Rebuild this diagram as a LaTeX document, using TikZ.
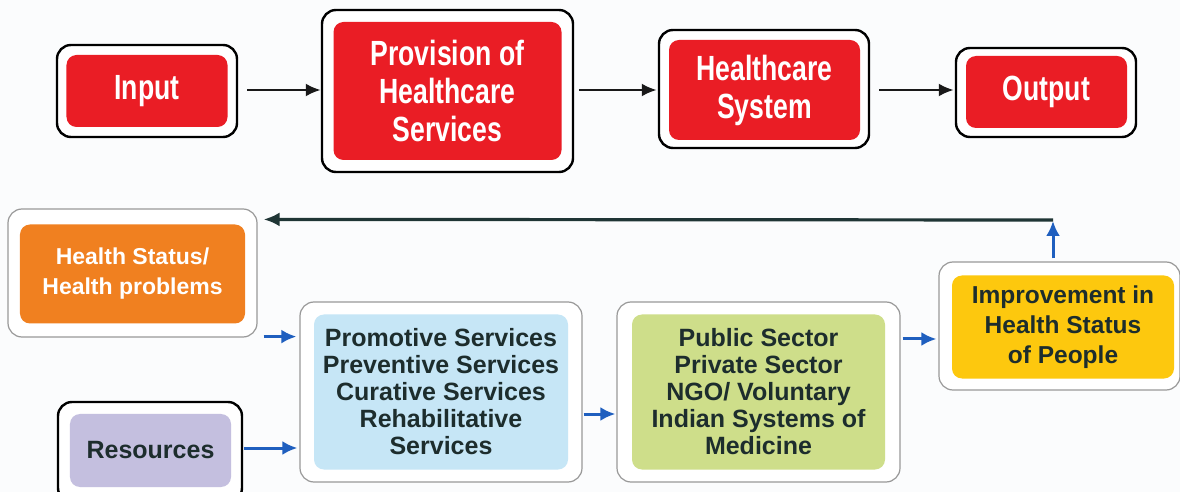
\documentclass[tikz,border=0pt]{standalone}
\usepackage{fontspec}
\setmainfont{Liberation Sans}
\newfontfamily\condfont[FakeStretch=0.76]{Liberation Sans}
\usetikzlibrary{arrows.meta,calc}
\definecolor{bgc}{HTML}{FBFCFD}
\definecolor{redc}{HTML}{EA1D25}
\definecolor{orangec}{HTML}{F08020}
\definecolor{bluec}{HTML}{C6E6F6}
\definecolor{greenc}{HTML}{CEDE8A}
\definecolor{yellowc}{HTML}{FDC80E}
\definecolor{lavc}{HTML}{C4BFDF}
\definecolor{arrowblue}{HTML}{1F5FBF}
\definecolor{txtc}{HTML}{1D2D2D}
\definecolor{fbline}{HTML}{1F3535}
\tikzset{
  outerbox/.style={draw=black, line width=2.4bp, rounded corners=14bp, fill=white, inner sep=0pt},
  outergray/.style={draw=black!40, line width=1.2bp, rounded corners=14bp, fill=white, inner sep=0pt},
  innerbox/.style={rounded corners=10bp, inner sep=0pt, align=center},
  redbox/.style={innerbox, fill=redc, text=white, font=\condfont\bfseries\fontsize{35bp}{38bp}\selectfont},
  lowtext/.style={text=txtc, font=\bfseries\fontsize{25bp}{27bp}\selectfont},
  toparrow/.style={draw=black!90, line width=2.6bp, -{Latex[length=15bp,width=13bp]}},
  bluearrow/.style={draw=arrowblue, line width=3bp, -{Latex[length=15bp,width=14bp]}},
}
\begin{document}
\begin{tikzpicture}[x=1bp,y=-1bp]
\useasboundingbox (0,0) rectangle (1180,492);
\fill[bgc] (0,0) rectangle (1180,492);

% top row
\node[outerbox, minimum width=180bp, minimum height=92bp] (inO) at (147,91) {};
\node[redbox, minimum width=161bp, minimum height=72bp] (in) at (inO.center) {Input};

\node[outerbox, minimum width=251bp, minimum height=162bp] (provO) at (447.5,91) {};
\node[redbox, minimum width=228bp, minimum height=138bp] (prov) at (provO.center) {Provision of\\Healthcare\\Services};

\node[outerbox, minimum width=210bp, minimum height=118bp] (hsO) at (764,89) {};
\node[redbox, minimum width=191bp, minimum height=100bp] (hs) at (764.5,90) {Healthcare\\System};

\node[outerbox, minimum width=180bp, minimum height=89bp] (outO) at (1046,92.5) {};
\node[redbox, minimum width=161bp, minimum height=72bp] (out) at (1046.5,92) {Output};

\draw[toparrow, shorten <=9bp] (inO.east |- 0,90) -- (provO.west |- 0,90);
\draw[toparrow, shorten <=5bp, shorten >=1bp] (provO.east |- 0,90) -- (hsO.west |- 0,90);
\draw[toparrow, shorten <=9bp, shorten >=1bp] (hsO.east |- 0,90) -- (outO.west |- 0,90);

% bottom row
\node[outergray, minimum width=249bp, minimum height=128bp] (healthO) at (132.5,273) {};
\node[innerbox, fill=orangec, text=white, font=\bfseries\fontsize{23bp}{30bp}\selectfont,
      minimum width=225bp, minimum height=99bp] (health) at (132.5,274) {Health Status/\\Health problems};

\node[outerbox, minimum width=184bp, minimum height=100bp] (resO) at (150,452) {};
\node[innerbox, fill=lavc, lowtext, minimum width=161bp, minimum height=73bp] (res) at (150.5,450.5) {Resources};

\node[outergray, minimum width=282bp, minimum height=180bp] (promoO) at (441,392) {};
\node[innerbox, fill=bluec, lowtext, minimum width=254bp, minimum height=155bp] (promo) at (441,392)
  {Promotive Services\\Preventive Services\\Curative Services\\Rehabilitative\\Services};

\node[outergray, minimum width=283bp, minimum height=180bp] (pubO) at (758.5,392) {};
\node[innerbox, fill=greenc, lowtext, minimum width=253bp, minimum height=155bp] (pub) at (758.5,392)
  {Public Sector\\Private Sector\\NGO/ Voluntary\\Indian Systems of\\Medicine};

\node[outergray, minimum width=241bp, minimum height=128bp] (impO) at (1059.5,326) {};
\node[innerbox, fill=yellowc, text=txtc, font=\bfseries\fontsize{24.5bp}{30bp}\selectfont,
      minimum width=222bp, minimum height=103bp] (imp) at (1063,327) {Improvement in\\Health Status\\of People};

% bottom connectors
\draw[bluearrow] ($(healthO.south east)+(6,-1)$) -- ($(promoO.west |- healthO.south)+(-3,-1)$);
\draw[bluearrow] ($(resO.east)+(1,-4)$) -- ($(promoO.west |- resO.east)+(-2,-4)$);
\draw[bluearrow] ($(promoO.east)+(1,22)$) -- ($(pubO.west)+(-1,22)$);
\draw[bluearrow] ($(pubO.east)+(2,-53)$) -- ($(impO.west)+(-2,13)$);

\coordinate (fb) at (1053,220);
\draw[bluearrow, shorten >=1bp] ($(impO.north)+(-6.5,-3)$) -- (fb);
\draw[draw=fbline, line width=3.2bp, -{Latex[length=16bp,width=14bp]}] (fb) -- ($(healthO.north east)+(6,11)$);
\end{tikzpicture}
\end{document}
